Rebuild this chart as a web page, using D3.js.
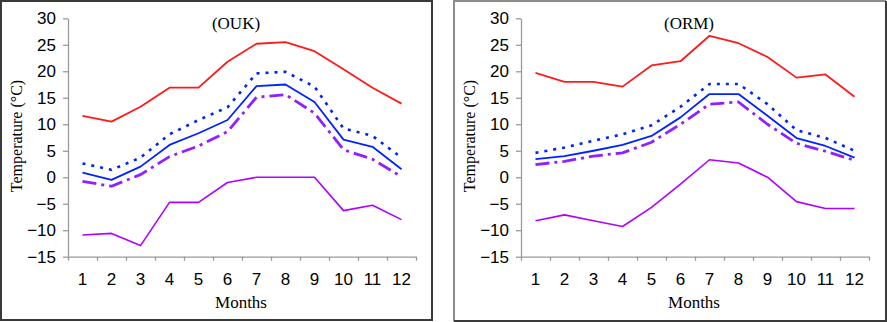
<!DOCTYPE html>
<html>
<head>
<meta charset="utf-8">
<script src="https://cdn.jsdelivr.net/npm/d3@7"></script>
<style>
  body { margin: 0; background: #fff; }
  svg { display: block; }
  .tick text { font-family: "Liberation Sans", Arial, sans-serif; font-size: 17px; fill: #000; }
  .serif { font-family: "Liberation Serif", "Times New Roman", serif; fill: #000; }
</style>
</head>
<body>
<svg id="chart" width="887" height="322"></svg>
<script>
const months = ["1", "2", "3", "4", "5", "6", "7", "8", "9", "10", "11", "12"];
const yTicks = [-15, -10, -5, 0, 5, 10, 15, 20, 25, 30];

// OUK station
const oukMax = [11.6, 10.5, 13.3, 16.9, 16.9, 21.8, 25.2, 25.5, 23.8, 20.4, 16.9, 13.9];
const oukUpper = [2.6, 1.4, 3.7, 8.1, 10.8, 13.2, 19.6, 19.9, 17.1, 9.2, 7.8, 3.7];
const oukMean = [0.85, -0.5, 2.0, 6.1, 8.3, 10.8, 17.2, 17.5, 14.2, 7.1, 5.75, 1.5];
const oukLower = [-0.8, -1.7, 0.5, 3.9, 5.9, 8.6, 15.1, 15.6, 12.1, 5.2, 3.4, 0.1];
const oukMin = [-10.9, -10.6, -12.9, -4.75, -4.75, -1.0, 0, 0, 0, -6.3, -5.3, -8.0];

// ORM station
const ormMax = [19.7, 18.0, 18.0, 17.1, 21.1, 21.9, 26.7, 25.3, 22.7, 18.8, 19.4, 15.2];
const ormUpper = [4.6, 5.6, 6.9, 8.1, 9.8, 13.3, 17.6, 17.6, 13.8, 8.9, 7.4, 5.0];
const ormMean = [3.4, 4.0, 5.0, 6.1, 7.8, 11.3, 15.7, 15.7, 11.6, 7.4, 5.9, 3.7];
const ormLower = [2.4, 3.0, 4.0, 4.6, 6.6, 10.0, 13.8, 14.2, 10.0, 6.4, 4.9, 3.2];
const ormMin = [-8.2, -7.1, -8.2, -9.3, -5.7, -1.3, 3.3, 2.7, 0.0, -4.6, -5.9, -5.9];

const svg = d3.select("#chart");

const styles = [
  { color: "#ff1a1a", width: 1.8, dash: null },            // max
  { color: "#0022ff", width: 2.6, dash: "3,6" },           // dotted
  { color: "#0022ff", width: 1.8, dash: null },            // mean
  { color: "#9020ff", width: 2.8, dash: "14,5,3,5" },      // dash-dot
  { color: "#b000ff", width: 1.6, dash: null }             // min
];

function drawPanel(offsetX, title, series) {
  const g = svg.append("g").attr("transform", `translate(${offsetX},0)`);

  const x = d3.scaleBand().domain(months).range([68, 416]);
  const xEdge = d3.scaleLinear().domain([0, 12]).range([68, 416]);
  const y = d3.scaleLinear().domain([-15, 30]).range([256.7, 18.3]);

  // y axis
  g.append("g")
    .attr("transform", "translate(68,0)")
    .call(d3.axisLeft(y).tickValues(yTicks).tickSize(5).tickPadding(7).tickSizeOuter(0));

  // x axis ticks at the band edges
  g.append("g")
    .attr("transform", "translate(0,256.7)")
    .call(d3.axisBottom(xEdge).tickValues(d3.range(13)).tickSize(4).tickFormat("").tickSizeOuter(0));

  // month labels at band centres
  g.append("g")
    .attr("transform", "translate(0,256.7)")
    .call(d3.axisBottom(x).tickSize(0).tickPadding(16))
    .call(s => s.select(".domain").remove());

  g.selectAll(".domain, .tick line").attr("stroke", "#9a9a9a").attr("stroke-width", 1.3);

  const line = d3.line()
    .x((d, i) => x(months[i]) + x.bandwidth() / 2)
    .y(d => y(d));

  series.forEach((values, k) => {
    const st = styles[k];
    g.append("path")
      .datum(values)
      .attr("fill", "none")
      .attr("stroke", st.color)
      .attr("stroke-width", st.width)
      .attr("stroke-dasharray", st.dash)
      .attr("stroke-linejoin", "round")
      .attr("d", line);
  });

  g.append("text")
    .attr("class", "serif")
    .attr("x", 236)
    .attr("y", 29)
    .attr("text-anchor", "middle")
    .style("font-size", "17px")
    .text(title);

  g.append("text")
    .attr("class", "serif")
    .attr("x", 241)
    .attr("y", 308)
    .attr("text-anchor", "middle")
    .style("font-size", "17px")
    .text("Months");

  g.append("text")
    .attr("class", "serif")
    .attr("transform", "translate(22,136) rotate(-90)")
    .attr("text-anchor", "middle")
    .style("font-size", "16px")
    .text("Temperature (°C)");
}

// panel frames
svg.append("rect")
  .attr("x", 1).attr("y", 1).attr("width", 431).attr("height", 319)
  .attr("fill", "none").attr("stroke", "#3a3a3a").attr("stroke-width", 2);

svg.append("path")
  .attr("d", "M454,321 L454,1 L886,1")
  .attr("fill", "none").attr("stroke", "#8c8c8c").attr("stroke-width", 2);
svg.append("path")
  .attr("d", "M886,1 L886,321 L454,321")
  .attr("fill", "none").attr("stroke", "#3a3a3a").attr("stroke-width", 2);

drawPanel(0, "(OUK)", [oukMax, oukUpper, oukMean, oukLower, oukMin]);
drawPanel(453, "(ORM)", [ormMax, ormUpper, ormMean, ormLower, ormMin]);
</script>
</body>
</html>
